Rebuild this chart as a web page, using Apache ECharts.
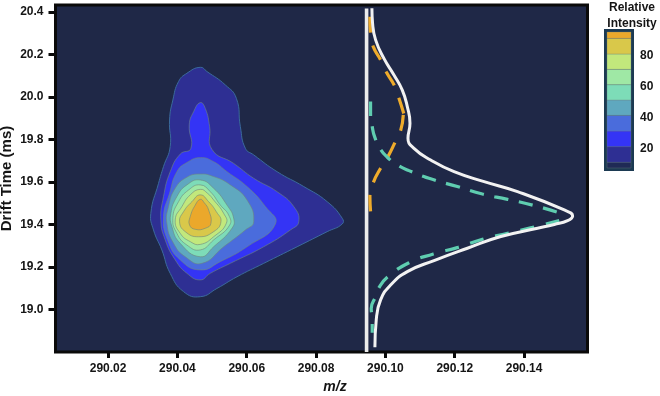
<!DOCTYPE html>
<html>
<head>
<meta charset="utf-8">
<style>html,body{margin:0;padding:0;background:#fff}#c{width:660px;height:396px}</style>
<script src="https://cdn.jsdelivr.net/npm/echarts@6/dist/echarts.min.js"></script>
</head>
<body>
<div id="c"></div>
<script>
const xTicks = [290.02,290.04,290.06,290.08,290.10,290.12,290.14];
const yTicks = [19.0,19.2,19.4,19.6,19.8,20.0,20.2,20.4];
const legendTicks = [20,40,60,80];
const levelColors = ['#2e2f93','#3434f5','#4a6cdc','#5fa8bf','#7ddcb8','#9fe8a5','#c2e87c','#d9c84a','#eba82b'];
const legendColors = ['#1f2a55'].concat(levelColors);
const legendEdges = [7.7,11.4,21.5,31.6,41.7,51.6,61.5,71.4,81.3,91.4,95.5];

const level1 = [[290.04659,20.140],[290.04274,20.112],[290.04033,20.073],[290.03869,19.986],[290.03773,19.892],[290.03792,19.767],[290.03599,19.673],[290.03455,19.594],[290.03233,19.453],[290.0331,19.375],[290.03551,19.281],[290.03792,19.171],[290.04177,19.085],[290.04659,19.061],[290.05141,19.100],[290.05719,19.155],[290.0649,19.218],[290.07453,19.296],[290.0832,19.367],[290.08754,19.403],[290.08754,19.430],[290.0832,19.508],[290.07646,19.579],[290.06875,19.649],[290.06201,19.728],[290.0596,19.759],[290.05815,19.861],[290.057,19.994],[290.05382,20.057],[290.04852,20.120]];
const level2 = [[290.04659,19.974],[290.04466,19.931],[290.04341,19.869],[290.04389,19.759],[290.04081,19.732],[290.03792,19.649],[290.03599,19.532],[290.03522,19.422],[290.03648,19.328],[290.03937,19.234],[290.04274,19.171],[290.04659,19.140],[290.04948,19.171],[290.05526,19.218],[290.0649,19.296],[290.0726,19.375],[290.07501,19.414],[290.07357,19.485],[290.06875,19.555],[290.06201,19.618],[290.05623,19.688],[290.04996,19.754],[290.04929,19.861],[290.04804,19.947]];
const level3 = [[290.04659,19.715],[290.04274,19.692],[290.03985,19.649],[290.03773,19.547],[290.03599,19.438],[290.03715,19.328],[290.04081,19.234],[290.04659,19.187],[290.05237,19.226],[290.06008,19.296],[290.06827,19.403],[290.06538,19.485],[290.06008,19.579],[290.0543,19.649],[290.05045,19.696]];
const level4 = [[290.04659,19.638],[290.04274,19.623],[290.03937,19.571],[290.03744,19.485],[290.03696,19.406],[290.03888,19.312],[290.04226,19.249],[290.04707,19.218],[290.05334,19.296],[290.0596,19.375],[290.06201,19.414],[290.06008,19.516],[290.05526,19.587],[290.05045,19.626]];
const level5 = [[290.04659,19.610],[290.04274,19.587],[290.03985,19.532],[290.03811,19.453],[290.0384,19.391],[290.04081,19.312],[290.04659,19.249],[290.05045,19.296],[290.05574,19.383],[290.05623,19.430],[290.0543,19.492],[290.05045,19.571]];
const level6 = [[290.04659,19.587],[290.04322,19.563],[290.04033,19.508],[290.03869,19.430],[290.03985,19.359],[290.04274,19.304],[290.04659,19.281],[290.05045,19.328],[290.05507,19.398],[290.05478,19.445],[290.05237,19.492],[290.04948,19.555]];
const level7 = [[290.04659,19.566],[290.0437,19.540],[290.04129,19.485],[290.03937,19.422],[290.04081,19.359],[290.0437,19.320],[290.04659,19.307],[290.05045,19.343],[290.05411,19.406],[290.05334,19.453],[290.05045,19.516],[290.04871,19.547]];
const level8 = [[290.04659,19.540],[290.04418,19.508],[290.04177,19.461],[290.04062,19.414],[290.04226,19.367],[290.04611,19.343],[290.05045,19.367],[290.05256,19.414],[290.05122,19.461],[290.049,19.508]];
const level9 = [[290.04659,19.519],[290.04515,19.492],[290.0437,19.438],[290.04351,19.398],[290.04515,19.378],[290.04804,19.383],[290.04967,19.406],[290.049,19.469],[290.04775,19.503]];
const levels = [level1,level2,level3,level4,level5,level6,level7,level8,level9];

const baseline = [[290.09457,20.417],[290.09457,18.801]];
const totalProfile = [[290.09611,20.418],[290.0963,20.347],[290.09717,20.269],[290.09957,20.182],[290.10246,20.104],[290.10487,20.033],[290.10632,19.955],[290.10709,19.877],[290.10651,19.806],[290.10824,19.759],[290.11306,19.704],[290.11981,19.649],[290.12848,19.602],[290.13811,19.555],[290.1516,19.469],[290.15401,19.441],[290.15256,19.419],[290.14871,19.401],[290.14389,19.383],[290.13329,19.344],[290.12366,19.289],[290.11403,19.231],[290.10632,19.179],[290.1015,19.116],[290.09861,19.046],[290.09736,18.952],[290.09697,18.823]];
const tealUpper = [[290.09572,19.979],[290.09572,19.916],[290.0962,19.861],[290.09688,19.814],[290.09842,19.759],[290.10054,19.717],[290.10343,19.681],[290.1068,19.654],[290.11354,19.613],[290.12077,19.579],[290.12799,19.544],[290.13522,19.519],[290.14245,19.492],[290.15015,19.456]];
const tealLower = [[290.15015,19.419],[290.14245,19.387],[290.13522,19.359],[290.12799,19.331],[290.12096,19.293],[290.11383,19.262],[290.1068,19.221],[290.10102,19.159],[290.09842,19.111],[290.09717,19.061],[290.09591,19.006],[290.0962,18.955],[290.0962,18.892]];
const orangeUpper = [[290.09553,20.378],[290.09572,20.300],[290.09649,20.237],[290.09861,20.175],[290.10034,20.115],[290.10266,20.052],[290.10391,19.994],[290.10535,19.920]];
const orangeLower = [[290.10516,19.916],[290.10439,19.842],[290.10275,19.786],[290.10073,19.720],[290.09861,19.665],[290.09649,19.597],[290.09553,19.532],[290.09572,19.461]];

const INK = '#151515';
const FONT = '"Liberation Sans", Arial, sans-serif';
const labelStyle = {color: INK, fontFamily: FONT, fontWeight: 'bold', fontSize: 12};

const contourSeries = levels.map((pts, i) => ({
  type: 'custom', coordinateSystem: 'cartesian2d', xAxisIndex: 0, yAxisIndex: 0, z: 2 + i, silent: true,
  encode: {x: 0, y: 1}, data: pts,
  renderItem: (params, api) => {
    if (params.dataIndex !== 0) return null;
    return {type: 'polygon',
      shape: {points: pts.map(p => api.coord(p)), smooth: 0.5},
      style: {fill: levelColors[i], stroke: i === 0 ? '#3a6a9c' : 'rgba(110,135,125,0.6)', lineWidth: 1}};
  }
}));
const legendSeries = {
  type: 'custom', coordinateSystem: 'cartesian2d', xAxisIndex: 1, yAxisIndex: 1, z: 20, silent: true,
  data: legendColors.map((c, i) => [legendEdges[i], legendEdges[i + 1]]),
  encode: {y: [0, 1]},
  renderItem: (params, api) => {
    const a = api.coord([0, api.value(1)]), b = api.coord([1, api.value(0)]);
    return {type: 'rect', shape: {x: a[0], y: a[1], width: b[0] - a[0], height: b[1] - a[1]},
      style: {fill: legendColors[params.dataIndex], stroke: 'rgba(110,130,130,0.55)', lineWidth: 0.6}};
  }
};
function profile(data, color, width, dash, z) {
  return {type: 'line', xAxisIndex: 0, yAxisIndex: 0, data, smooth: 0.5, symbol: 'none', z, silent: true,
    lineStyle: {color, width, type: dash || 'solid', cap: 'butt'}};
}

const chart = echarts.init(document.getElementById('c'), null, {renderer: 'canvas'});
chart.setOption({
  animation: false,
  backgroundColor: '#ffffff',
  graphic: [{type: 'text', x: 632, y: 0, z: 50, silent: true,
    style: {text: 'Relative\nIntensity', align: 'center', verticalAlign: 'top', fontFamily: FONT, fontWeight: 'bold', fontSize: 12, fill: INK, lineHeight: 15.5}}],
  grid: [
    {left: 55.5, right: 72.5, top: 5, bottom: 44, show: true, outerBoundsMode: 'none', backgroundColor: '#1f2847', borderColor: '#0a0a0a', borderWidth: 3},
    {left: 607, width: 24, top: 32, height: 136, show: true, outerBoundsMode: 'none', backgroundColor: '#1c3a52', borderColor: '#1c3a52', borderWidth: 6}
  ],
  xAxis: [
    {type: 'value', gridIndex: 0, min: 290.00483, max: 290.1583, name: 'm/z', nameLocation: 'middle', nameGap: 27,
      nameTextStyle: {fontFamily: FONT, fontStyle: 'italic', fontWeight: 'bold', fontSize: 14, color: INK, padding: [0, 0, 0, 27]},
      splitLine: {show: false},
      axisLine: {show: false},
      axisTick: {length: 6, inside: false, lineStyle: {color: '#0a0a0a', width: 3}, customValues: xTicks},
      axisLabel: Object.assign({customValues: xTicks, margin: 11, formatter: v => v.toFixed(2)}, labelStyle)},
    {type: 'value', gridIndex: 1, min: 0, max: 1, show: false}
  ],
  yAxis: [
    {type: 'value', gridIndex: 0, min: 18.801, max: 20.433, name: 'Drift Time (ms)', nameLocation: 'middle', nameGap: 41, nameMoveOverlap: false,
      nameTextStyle: {fontFamily: FONT, fontWeight: 'bold', fontSize: 15, color: INK},
      splitLine: {show: false},
      axisLine: {show: false},
      axisTick: {length: 7, lineStyle: {color: '#0a0a0a', width: 3}, customValues: yTicks},
      axisLabel: Object.assign({customValues: yTicks, margin: 12, formatter: v => v.toFixed(1)}, labelStyle)},
    {type: 'value', gridIndex: 1, position: 'right', min: 7.7, max: 95.5,
      splitLine: {show: false}, axisLine: {show: false}, axisTick: {show: false},
      axisLabel: Object.assign({customValues: legendTicks, margin: 9, formatter: v => String(v)}, labelStyle)}
  ],
  series: contourSeries.concat([
    profile(baseline, '#ececec', 3.6, null, 30),
    profile(orangeUpper, '#eeab2b', 3.2, [16, 13.3], 31),
    profile(orangeLower, '#eeab2b', 3.2, [16, 13.3], 31),
    profile(tealUpper, '#5fcdb0', 3.2, [14.3, 10.7], 32),
    profile(tealLower, '#5fcdb0', 3.2, [14, 12], 32),
    profile(totalProfile, '#f2f2f2', 3, null, 33),
    legendSeries
  ])
});
</script>
</body>
</html>
